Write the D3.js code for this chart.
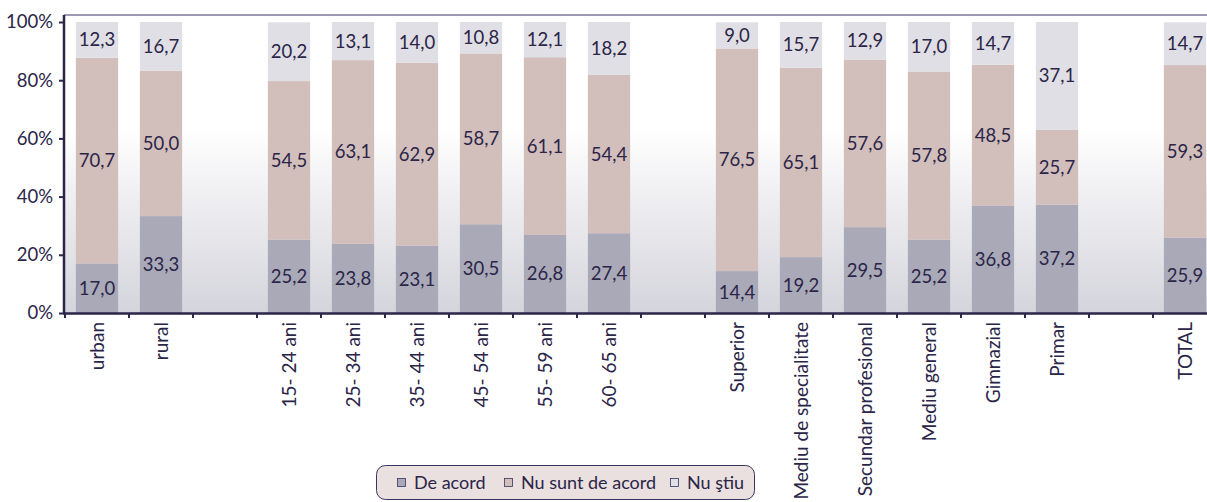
<!DOCTYPE html>
<html>
<head>
<meta charset="utf-8">
<script src="https://cdn.jsdelivr.net/npm/d3@7"></script>
<style>
  html, body { margin: 0; padding: 0; background: #ffffff; }
  svg { display: block; }
  text { font-family: "Lato", "Open Sans", sans-serif; fill: #2b2548; }
</style>
</head>
<body>
<svg id="chart" width="1207" height="502"></svg>
<script>
// Categories (empty strings are spacer slots between groups)
const categories = [
  "urban", "rural", "",
  "15- 24 ani", "25- 34 ani", "35- 44 ani", "45- 54 ani", "55- 59 ani", "60- 65 ani", "",
  "Superior", "Mediu de specialitate", "Secundar profesional", "Mediu general", "Gimnazial", "Primar", "",
  "TOTAL"
];
const seriesNames = ["De acord", "Nu sunt de acord", "Nu ştiu"];
const deAcord =      [17.0, 33.3, null, 25.2, 23.8, 23.1, 30.5, 26.8, 27.4, null, 14.4, 19.2, 29.5, 25.2, 36.8, 37.2, null, 25.9];
const nuSuntDeAcord = [70.7, 50.0, null, 54.5, 63.1, 62.9, 58.7, 61.1, 54.4, null, 76.5, 65.1, 57.6, 57.8, 48.5, 25.7, null, 59.3];
const nuStiu =       [12.3, 16.7, null, 20.2, 13.1, 14.0, 10.8, 12.1, 18.2, null, 9.0, 15.7, 12.9, 17.0, 14.7, 37.1, null, 14.7];
const yTicks = [0, 20, 40, 60, 80, 100];
const colors = ["#a9a9b8", "#d2bfbb", "#e0dfe5"];

const svg = d3.select("#chart");
const slotKeys = categories.map((c, i) => i);
const left = 65, slot = 64;
const x = d3.scaleBand().domain(slotKeys).range([left, left + slot * categories.length])
  .paddingInner(0.34).paddingOuter(0.17);
const y = d3.scaleLinear().domain([0, 100]).range([313, 22]);

// plot background gradient
const defs = svg.append("defs");
const grad = defs.append("linearGradient").attr("id", "bg").attr("x1", 0).attr("y1", 0).attr("x2", 0).attr("y2", 1);
grad.append("stop").attr("offset", "0%").attr("stop-color", "#ffffff");
grad.append("stop").attr("offset", "38%").attr("stop-color", "#ffffff");
grad.append("stop").attr("offset", "100%").attr("stop-color", "#d4d4dc");
svg.append("rect").attr("x", left).attr("y", 15).attr("width", 1207 - left).attr("height", 313 - 15)
  .attr("fill", "url(#bg)");

// stacked data
const rows = categories.map((c, i) => ({ key: i, name: c, v: [deAcord[i], nuSuntDeAcord[i], nuStiu[i]] }))
  .filter(r => r.name !== "");
const stack = d3.stack().keys([0, 1, 2]).value((d, k) => d.v[k]);
const layers = stack(rows);

const g = svg.append("g");
layers.forEach((layer, li) => {
  g.selectAll(null).data(layer).enter().append("rect")
    .attr("x", d => x(d.data.key))
    .attr("width", x.bandwidth())
    .attr("y", d => y(Math.min(100, d[1])))
    .attr("height", d => y(d[0]) - y(Math.min(100, d[1])))
    .attr("fill", colors[li]);
});
const fmt = v => v.toFixed(1).replace(".", ",");
layers.forEach((layer, li) => {
  g.selectAll(null).data(layer).enter().append("text")
    .attr("x", d => x(d.data.key) + x.bandwidth() / 2)
    .attr("y", d => (y(d[0]) + y(Math.min(100, d[1]))) / 2)
    .attr("dy", "0.35em")
    .attr("text-anchor", "middle")
    .style("font-size", "18.5px")
    .text(d => fmt(d.data.v[li]));
});

// top border
svg.append("line").attr("x1", left - 1).attr("x2", 1207).attr("y1", 15).attr("y2", 15)
  .attr("stroke", "#3a3462").attr("stroke-width", 1.2);

// y axis
const yAxis = svg.append("g").attr("transform", `translate(${left - 1},0)`)
  .call(d3.axisLeft(y).tickValues(yTicks).tickFormat(d => d + "%").tickSize(5).tickPadding(6));
yAxis.select(".domain").remove();
yAxis.selectAll(".tick line").attr("stroke", "#2b2548").attr("stroke-width", 2);
yAxis.selectAll(".tick text").style("font-size", "18.5px").style("font-family", "Lato, sans-serif").attr("fill", "#2b2548");
svg.append("line").attr("x1", left - 1).attr("x2", left - 1).attr("y1", 15).attr("y2", 314)
  .attr("stroke", "#2b2548").attr("stroke-width", 2.5);

// x axis
svg.append("line").attr("x1", left - 2).attr("x2", 1207).attr("y1", 313.5).attr("y2", 313.5)
  .attr("stroke", "#2b2548").attr("stroke-width", 2.5);
const xt = svg.append("g");
xt.selectAll(null).data(d3.range(categories.length + 1)).enter().append("line")
  .attr("x1", i => left + i * slot).attr("x2", i => left + i * slot)
  .attr("y1", 313).attr("y2", 318)
  .attr("stroke", "#2b2548").attr("stroke-width", 2);
xt.selectAll(null).data(rows).enter().append("text")
  .attr("transform", d => `translate(${x(d.key) + x.bandwidth() / 2},322) rotate(-90)`)
  .attr("text-anchor", "end")
  .attr("dy", "0.35em")
  .style("font-size", "19px")
  .text(d => d.name);

// legend
const lg = svg.append("g");
lg.append("rect").attr("x", 376.5).attr("y", 465.5).attr("width", 378).attr("height", 34).attr("rx", 9)
  .attr("fill", "#e9e0df").attr("stroke", "#3a3462").attr("stroke-width", 1);
const legendX = [397, 504, 670];
seriesNames.forEach((name, i) => {
  lg.append("rect").attr("x", legendX[i] + 0.5).attr("y", 478.5).attr("width", 8).attr("height", 8)
    .attr("fill", colors[i]).attr("stroke", "#3a3462").attr("stroke-width", 0.8);
  lg.append("text").attr("x", legendX[i] + 17).attr("y", 483).attr("dy", "0.35em")
    .style("font-size", "18px").text(name);
});
</script>
</body>
</html>
